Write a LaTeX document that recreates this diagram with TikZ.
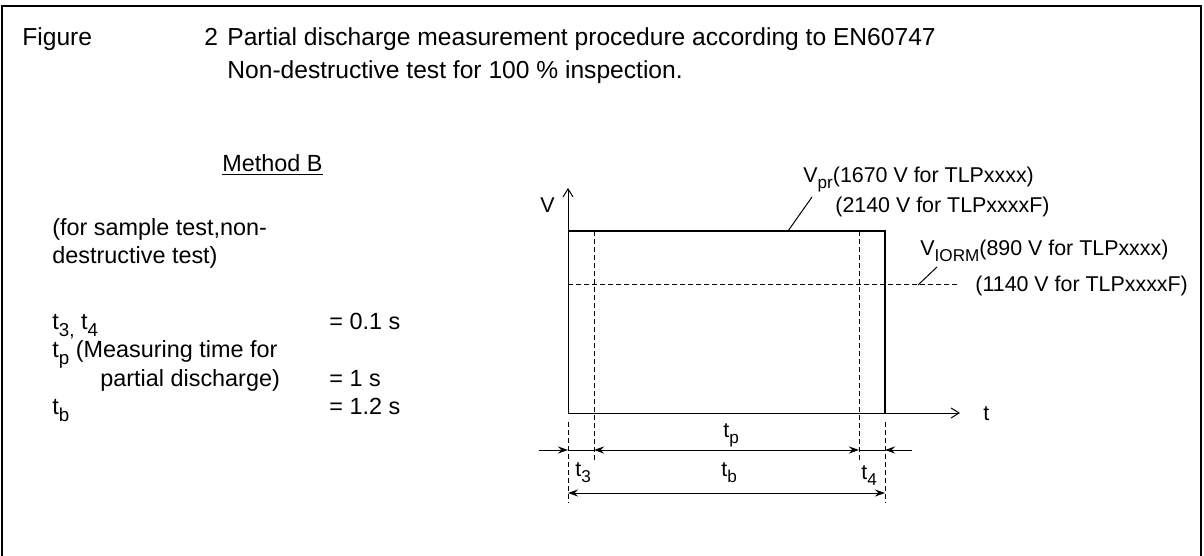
\documentclass[tikz,border=0pt]{standalone}
\usepackage{fontspec}
\setmainfont{Liberation Sans}
\usetikzlibrary{arrows.meta}
\newcommand{\lsub}[1]{\raisebox{-0.32em}{\fontsize{0.8em}{1em}\selectfont #1}}

\begin{document}
\begin{tikzpicture}[
  x=0.5pt,y=-0.5pt,
  ttl/.style={anchor=base west,inner sep=0pt,font=\fontsize{12.3}{14}\selectfont},
  lbl/.style={anchor=base west,inner sep=0pt,font=\fontsize{11.7}{14}\selectfont},
  clbl/.style={anchor=base west,inner sep=0pt,font=\fontsize{10.7}{13}\selectfont},
  frame/.style={line width=1pt},
  axis/.style={-{Straight Barb[length=4pt,width=5pt]},line width=0.5pt},
  pulse/.style={line width=1.1pt,line join=miter},
  guide/.style={dashed,dash pattern=on 2.5pt off 1.5pt,line width=0.5pt},
  dim/.style={{Stealth[length=5pt,width=3.5pt]}-{Stealth[length=5pt,width=3.5pt]},line width=0.5pt},
  dimr/.style={-{Stealth[length=5pt,width=3.5pt]},line width=0.5pt},
  lead/.style={line width=0.5pt}
]
\useasboundingbox (0,0) rectangle (1204,556);
% frame (bottom edge lies below the page)
\draw[frame] (2,562) -- (2,6) -- (1201,6) -- (1201,562);

% heading
\node[ttl] (fig)   at (22,46)  {Figure};
\node[ttl] (fignr) at (204,46) {2};
\node[ttl] (tit1)  at (227,46) {Partial discharge measurement procedure according to EN60747};
\node[ttl] (tit2)  at (227,79) {Non-destructive test for 100 \% inspection.};

% left column
\node[lbl] (meth)  at (222,171) {\underline{Method B}};
\node[lbl] (use1)  at (52,235)  {(for sample test,non-};
\node[lbl] (use2)  at (52,263)  {destructive test)};
\node[lbl] (t34)   at (52,329)  {t\lsub{3,} t\lsub{4}};
\node[lbl] (tpl1)  at (52,357)  {t\lsub{p} (Measuring time for};
\node[lbl] (tpl2)  at (100,386) {partial discharge)};
\node[lbl] (tbl)   at (52,414)  {t\lsub{b}};
\node[lbl] (t34v)  at (329,329) {= 0.1 s};
\node[lbl] (tpv)   at (329,386) {= 1 s};
\node[lbl] (tbv)   at (329,414) {= 1.2 s};

% chart
\coordinate (O)    at (568,413);
\coordinate (Vtop) at (568,188);
\coordinate (tend) at (960,413);
\coordinate (pA)   at (568,231);
\coordinate (pB)   at (885,231);
\coordinate (pC)   at (885,413);
\draw[guide] (568,284) -- (960,284);
\draw[guide] (594,231) -- (594,460);
\draw[guide] (859,231) -- (859,460);
\draw[guide] (568,422) -- (568,503);
\draw[guide] (885,422) -- (885,503);
\draw[axis] (O) -- (Vtop);
\draw[axis] (O) -- (tend);
\draw[pulse] (pA) -- (pB) -- (pC);
\node[clbl] (Vlab) at (540,212) {V};
\node[clbl] (tlab) at (983,420) {t};

% voltage labels
\node[clbl] (vpr1) at (803,182) {V\lsub{pr}(1670 V for TLPxxxx)};
\node[clbl] (vpr2) at (835,212) {(2140 V for TLPxxxxF)};
\coordinate (vprfoot) at (788,231);
\coordinate (vprtip)  at (812,197);
\draw[lead] (vprfoot) -- (vprtip);
\node[clbl] (vio1) at (920,255) {V\lsub{IORM}(890 V for TLPxxxx)};
\node[clbl] (vio2) at (975,291) {(1140 V for TLPxxxxF)};
\coordinate (viofoot) at (918,285);
\coordinate (viotip)  at (937,267);
\draw[lead] (viofoot) -- (viotip);

% time dimensions
\coordinate (a0) at (539,450);
\coordinate (a1) at (568,450);
\coordinate (a2) at (594,450);
\coordinate (a3) at (859,450);
\coordinate (a4) at (885,450);
\coordinate (a5) at (912,450);
\draw[dimr] (a0) -- (a1);
\draw[lead] (a1) -- (a2);
\draw[dim]  (a2) -- (a3);
\draw[lead] (a3) -- (a4);
\draw[dimr] (a5) -- (a4);
\coordinate (b1) at (568,493);
\coordinate (b2) at (885,493);
\draw[dim] (b1) -- (b2);
\node[clbl] (tp)  at (723,437) {t\lsub{p}};
\node[clbl] (t3)  at (575,476) {t\lsub{3}};
\node[clbl] (tb)  at (721,476) {t\lsub{b}};
\node[clbl] (t4)  at (861,479) {t\lsub{4}};
\end{tikzpicture}
\end{document}
